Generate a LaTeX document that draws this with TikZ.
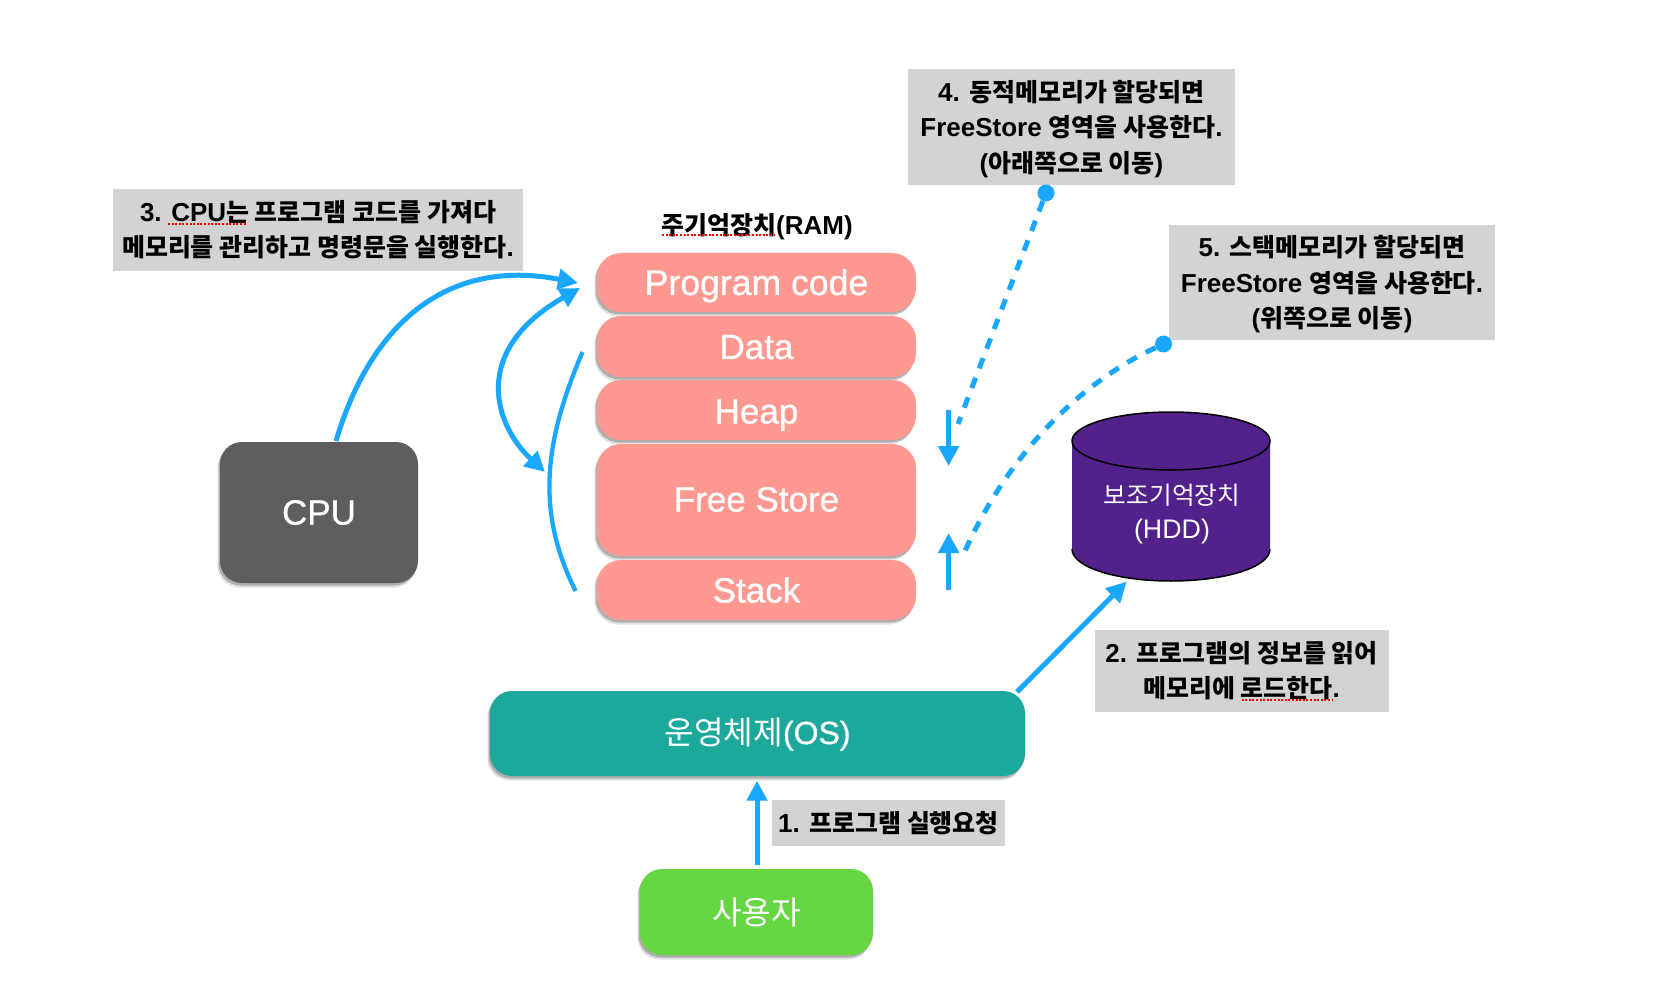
\documentclass[tikz,border=0pt]{standalone}
\usepackage{fontspec}
\setmainfont{Liberation Sans}
\newfontfamily\krfont[Scale=0.92]{Noto Sans CJK KR}
\newfontfamily\krbfont[Scale=0.96]{Noto Sans CJK KR}
\newfontfamily\whitefont[FakeBold=0.8]{Liberation Sans}
\newcommand{\K}[1]{{\krfont #1}}
\newcommand{\TopRule}{\rule{0pt}{25pt}}
\usetikzlibrary{arrows.meta,shadows}
\definecolor{salmonc}{HTML}{FF9890}
\definecolor{cpuc}{HTML}{5E5E5E}
\definecolor{osc}{HTML}{1CA89B}
\definecolor{userc}{HTML}{66D742}
\definecolor{greyc}{HTML}{D3D3D3}
\definecolor{bluec}{HTML}{1AA7FF}
\definecolor{hddc}{HTML}{52218B}
\tikzset{
  softshadow/.style={
    drop shadow={shadow xshift=-1.5pt,shadow yshift=-2.5pt,opacity=.22,fill=black},
    drop shadow={shadow xshift=-2.5pt,shadow yshift=-4.5pt,opacity=.12,fill=black}},
  blockbox/.style={softshadow,rounded corners=#1,inner sep=0pt,text=white,align=center,
    font=\whitefont\fontsize{35}{40}\selectfont},
  ram/.style={blockbox=24pt,fill=salmonc,minimum width=319pt,text height=25pt,text depth=0pt},
  note/.style={fill=greyc,inner sep=0pt,align=center,text=black,
    font=\bfseries\fontsize{26}{35}\selectfont\let\krfont\krbfont},
  tallnote/.style={note,font=\bfseries\fontsize{26}{35.6}\selectfont\let\krfont\krbfont},
  flow/.style={draw=bluec,line width=5pt,-{Triangle[width=20pt,length=20pt]}},
  bothflow/.style={draw=bluec,line width=5pt,{Triangle[width=20pt,length=20pt]}-{Triangle[width=20pt,length=20pt]}},
  plainflow/.style={draw=bluec,line width=4.3pt},
  dotflow/.style={draw=bluec,line width=5pt,dash pattern=on 11pt off 10pt},
  dotend/.style={circle,fill=bluec,minimum size=17pt,inner sep=0pt},
  redmark/.style={draw=red,line width=2pt,dash pattern=on 2pt off 1.6pt},
}
\begin{document}
\begin{tikzpicture}[x=1pt,y=-1pt]
\fill[white] (0,0) rectangle (1676,1008);
\useasboundingbox (0,0) rectangle (1676,1008);

% RAM stack
\node[ram,minimum height=59pt] (code) at (756.5,282.5) {\fontsize{35.6}{40}\selectfont Program code};
\node[ram,minimum height=61pt] (data) at (756.5,346.5) {Data};
\node[ram,minimum height=60pt] (heap) at (756.5,410) {\raisebox{-1pt}{Heap}};
\node[ram,minimum height=112pt] (free) at (756.5,500) {\raisebox{1pt}{Free Store}};
\node[ram,minimum height=60pt] (stack) at (756.5,590) {Stack};
\node[font=\bfseries\fontsize{26}{30}\selectfont\let\krfont\krbfont] (ramlabel) at (757,227) {\K{주기억장치}(RAM)};
\draw[redmark] (662,235) -- (775,235);

% other blocks
\node[blockbox=22pt,fill=cpuc,minimum width=198pt,minimum height=141pt] (cpu) at (319,512.5) {CPU};
\node[blockbox=22pt,fill=osc,minimum width=535pt,minimum height=85pt,text height=27pt,text depth=6pt] (os) at (757.5,733.5) {\K{운영체제}{\fontsize{32}{40}\selectfont(OS)}};
\node[blockbox=22pt,fill=userc,minimum width=233pt,minimum height=86pt] (user) at (756.5,912) {\raisebox{2pt}{\K{사용자}}};

% HDD
\path[fill=hddc] (1072,441) -- (1072,549) .. controls (1072,567) and (1116,581) .. (1171,581)
   .. controls (1226,581) and (1270,567) .. (1270,549) -- (1270,441) -- cycle;
\draw[black,line width=1.5pt] (1072,549) .. controls (1072,567) and (1116,581) .. (1171,581)
   .. controls (1226,581) and (1270,567) .. (1270,549);
\draw[black,line width=1.5pt,fill=hddc] (1171,441) ellipse [x radius=99,y radius=29];
\node[text=white,align=center,font=\fontsize{26.8}{34}\selectfont] (hdd) at (1172,514) {\K{보조기억장치}\\(HDD)};

% notes
\node[note,minimum width=233pt,minimum height=46pt] (n1) at (888.5,823) {1. \K{프로그램 실행요청}};
\node[note,minimum width=294pt,minimum height=82pt] (n2) at (1241.5,671) {2. \K{프로그램의 정보를 읽어}\\\K{메모리에 로드한다}.};
\draw[redmark] (1241.5,700) -- (1332,700);
\node[note,minimum width=410pt,minimum height=82pt] (n3) at (318,230) {3. CPU\K{는 프로그램 코드를 가져다}\\\K{메모리를 관리하고 명령문을 실행한다}.};
\draw[redmark] (168,224) -- (246,224);
\node[tallnote,minimum width=327pt,minimum height=116pt] (n4) at (1071.5,127) {\TopRule 4. \K{동적메모리가 할당되면}\\FreeStore \K{영역을 사용한다}.\\(\K{아래쪽으로 이동})};
\node[tallnote,minimum width=326pt,minimum height=115pt] (n5) at (1332,282.5) {\TopRule 5. \K{스택메모리가 할당되면}\\FreeStore \K{영역을 사용한다}.\\(\K{위쪽으로 이동})};

% end points of connectors
\coordinate (cpuout) at (336,441);
\coordinate (codein) at (578,283);
\coordinate (loopa) at (580,288);
\coordinate (loopb) at (545,472);
\coordinate (arca) at (582.5,352);
\coordinate (arcb) at (575.6,591);
\coordinate (downa) at (948.6,410);
\coordinate (downb) at (948.6,466);
\coordinate (upa) at (948.6,590);
\coordinate (upb) at (948.6,533);
\coordinate (d4end) at (958,424);
\coordinate (d5end) at (963.6,554);
\coordinate (osout) at (1017,692);
\coordinate (hddin) at (1126.6,581.7);
\coordinate (userout) at (757,865);
\coordinate (osin) at (757,780.7);
\node[dotend] (dot4) at (1046,193) {};
\node[dotend] (dot5) at (1163.5,344) {};

% connectors
\draw[flow] (cpuout) .. controls (372,320) and (450,258) .. (codein);
\draw[bothflow] (loopa) .. controls (468,352) and (496,427) .. (loopb);
\draw[plainflow] (arca) .. controls (545,440) and (535,510) .. (arcb);
\draw[flow] (downa) -- (downb);
\draw[flow] (upa) -- (upb);
\draw[dotflow] (dot4) -- (d4end);
\draw[dotflow] (dot5) .. controls (1075,385) and (1005,460) .. (d5end);
\draw[flow] (osout) -- (hddin);
\draw[flow] (userout) -- (osin);
\end{tikzpicture}
\end{document}
